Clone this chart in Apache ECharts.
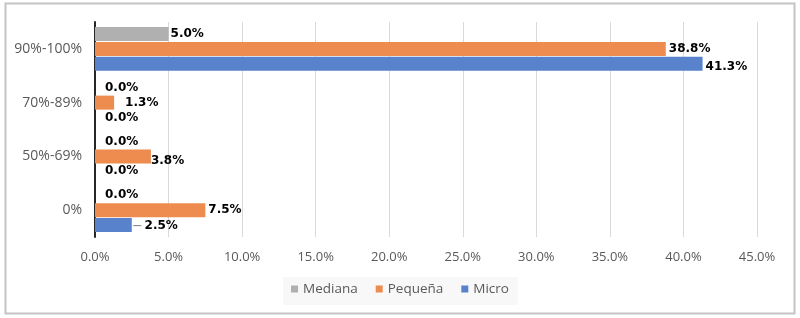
<!DOCTYPE html>
<html>
<head>
<meta charset="utf-8">
<script src="https://cdn.jsdelivr.net/npm/echarts@6/dist/echarts.min.js"></script>
<style>
  html, body { margin: 0; padding: 0; background: #fff; }
  #chart { width: 800px; height: 318px; }
</style>
</head>
<body>
<div id="chart"></div>
<script>
// categories bottom -> top
const categories = ['0%', '50%-69%', '70%-89%', '90%-100%']
const micro = [2.5, 0.0, 0.0, 41.3]
const pequena = [7.5, 3.8, 1.3, 38.8]
const mediana = [0.0, 0.0, 0.0, 5.0]
const xTicks = [0, 5, 10, 15, 20, 25, 30, 35, 40, 45]

// label nudges (Excel placed some labels off the bar end)
const microOffsets = [[-2, 1], [7, 0], [7, 0], [0, 3]]
const pequenaOffsets = [[0, 0], [-3, 4], [8, 0], [0, 0]]
const medianaOffsets = [[7, 0], [7, 0], [7, 0], [-1, 0]]

const chart = echarts.init(document.getElementById('chart'))

function withLabels(values, offsets, lead) {
  return values.map((v, i) => ({
    value: v,
    label: {
      offset: offsets[i],
      formatter: (lead && lead[i] ? '{d|—}{s| }' : '') + v.toFixed(1) + '%'
    }
  }))
}

const labelStyle = {
  show: true,
  position: 'right',
  distance: 3,
  color: '#000',
  fontFamily: 'DejaVu Sans',
  fontWeight: 'bold',
  fontSize: 12,
  rich: {
    d: { color: '#8c8c8c', fontSize: 9, fontFamily: 'DejaVu Sans' },
    s: { fontSize: 8 }
  }
}

chart.setOption({
  animation: false,
  textStyle: { fontFamily: 'Open Sans' },
  graphic: [
    {
      type: 'rect',
      shape: { x: 5.5, y: 3.5, width: 789, height: 310 },
      style: { fill: 'none', stroke: '#c4c4c4', lineWidth: 2 },
      silent: true,
      z: 0
    },
    {
      type: 'rect',
      shape: { x: 283, y: 277, width: 235, height: 28 },
      style: { fill: '#f8f8f8' },
      silent: true,
      z: 0
    }
  ],
  grid: {
    left: 95,
    right: 43,
    top: 22,
    bottom: 81
  },
  legend: {
    data: ['Mediana', 'Pequeña', 'Micro'],
    bottom: 17,
    left: 'center',
    itemWidth: 7,
    itemHeight: 7,
    itemGap: 18,
    icon: 'rect',
    textStyle: { color: '#595959', fontSize: 13.5, fontFamily: 'Open Sans' }
  },
  xAxis: {
    type: 'value',
    min: 0,
    max: 45,
    interval: 5,
    axisLine: { show: false },
    axisTick: { show: false },
    splitLine: { lineStyle: { color: '#d9d9d9', width: 1 } },
    axisLabel: {
      color: '#595959',
      fontSize: 13,
      margin: 14,
      formatter: v => xTicks.includes(v) ? v.toFixed(1) + '%' : ''
    }
  },
  yAxis: {
    type: 'category',
    data: categories,
    axisLine: { show: true, lineStyle: { color: '#262626', width: 2 } },
    axisTick: { show: false },
    axisLabel: { color: '#595959', fontSize: 14, margin: 13 }
  },
  series: [
    {
      name: 'Mediana',
      type: 'bar',
      data: withLabels(mediana, medianaOffsets),
      itemStyle: { color: '#b0b0b0' },
      label: labelStyle,
      barWidth: 14,
      barGap: '7%',
      z: 2
    },
    {
      name: 'Pequeña',
      type: 'bar',
      data: withLabels(pequena, pequenaOffsets),
      itemStyle: { color: '#ee8c4f' },
      label: labelStyle,
      barWidth: 14,
      barGap: '7%',
      z: 2
    },
    {
      name: 'Micro',
      type: 'bar',
      data: withLabels(micro, microOffsets, [true, false, false, false]),
      itemStyle: { color: '#5882cc' },
      label: labelStyle,
      barWidth: 14,
      barGap: '7%',
      z: 2
    }
  ]
})
</script>
</body>
</html>
